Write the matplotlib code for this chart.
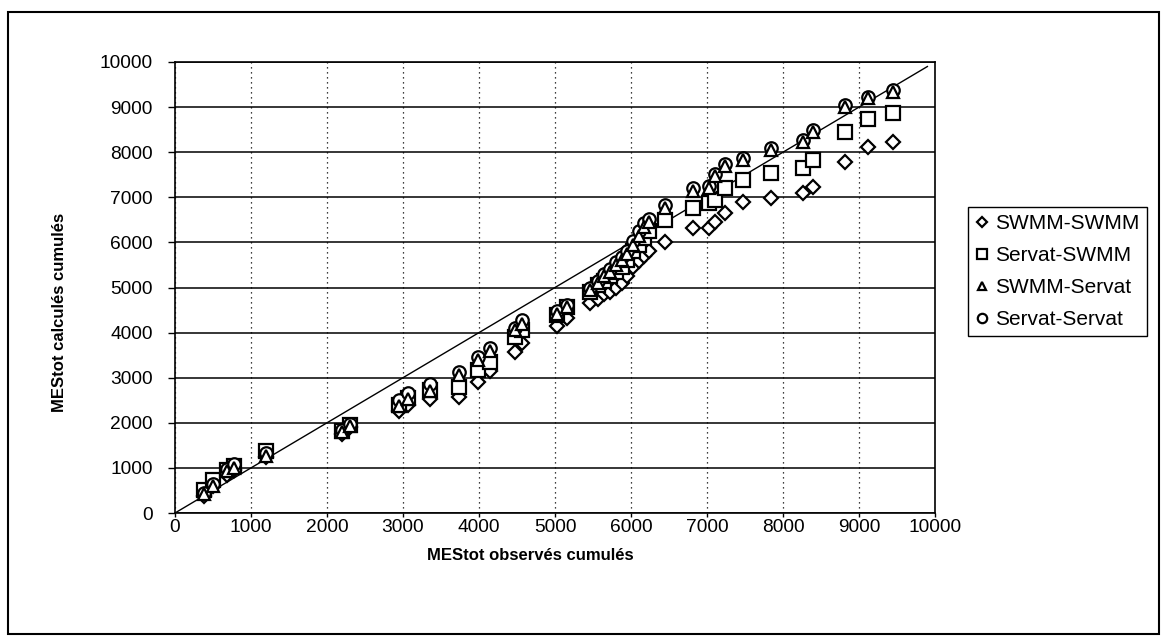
import matplotlib
matplotlib.use("Agg")
import matplotlib.pyplot as plt
from matplotlib.patches import Rectangle

plt.rcParams['font.family'] = ['Liberation Sans', 'DejaVu Sans']


# ---------- data ----------

# observed cumulated MEStot, shared by the four simulations
observes = [380, 500, 690, 780, 1200, 2200, 2300, 2950, 3060, 3360,
            3740, 3990, 4150, 4480, 4560, 5030, 5160, 5460, 5560, 5640,
            5720, 5800, 5880, 5950, 6020, 6100, 6170, 6240, 6450, 6820,
            7020, 7110, 7240, 7480, 7840, 8260, 8390, 8820, 9120, 9450]

swmm_swmm = [380, 600, 850, 950, 1250, 1750, 1900, 2260, 2400, 2520,
             2570, 2910, 3150, 3580, 3780, 4150, 4330, 4660, 4750, 4850,
             4900, 4980, 5100, 5250, 5450, 5580, 5700, 5820, 6010, 6320,
             6330, 6450, 6650, 6900, 6990, 7100, 7230, 7790, 8110, 8230]

servat_swmm = [520, 730, 950, 1050, 1380, 1820, 1960, 2400, 2560, 2720,
               2800, 3170, 3350, 3900, 4050, 4380, 4560, 4900, 5050, 5150,
               5250, 5350, 5450, 5600, 5800, 5950, 6100, 6250, 6500, 6760,
               6880, 6950, 7200, 7380, 7540, 7650, 7830, 8450, 8740, 8870]

swmm_servat = [420, 600, 930, 1000, 1260, 1790, 1920, 2380, 2530, 2700,
               3060, 3390, 3600, 4050, 4180, 4420, 4560, 4950, 5100, 5250,
               5350, 5500, 5600, 5750, 5950, 6150, 6350, 6450, 6770, 7150,
               7200, 7470, 7700, 7830, 8050, 8230, 8450, 9000, 9200, 9340]

servat_servat = [450, 650, 980, 1080, 1320, 1850, 1970, 2500, 2660, 2870,
                 3120, 3450, 3650, 4100, 4270, 4470, 4620, 5000, 5150, 5300,
                 5420, 5560, 5680, 5820, 6020, 6250, 6420, 6520, 6830, 7200,
                 7240, 7520, 7740, 7870, 8090, 8270, 8490, 9040, 9230, 9380]

bissectrice = [0, 9900]
ticks = list(range(0, 10001, 1000))


# ---------- figure ----------

W, H = 1167, 644
fig = plt.figure(figsize=(W / 100, H / 100), dpi=100)

# outer frame of the scanned chart
fig.add_artist(Rectangle((8 / W, 10 / H), (1159 - 8) / W, (634 - 12) / H,
                         transform=fig.transFigure, fill=False,
                         edgecolor='black', lw=1.5))

ax = fig.add_axes([175 / W, (H - 513) / H, 760 / W, 451 / H])
ax.set_xlim(0, 10000)
ax.set_ylim(0, 10000)
ax.set_xticks(ticks)
ax.set_yticks(ticks)
ax.set_axisbelow(True)
ax.yaxis.grid(True, color='black', lw=1.1)
ax.xaxis.grid(True, color='black', lw=0.9, linestyle=(0, (1, 3)))
for side in ax.spines.values():
    side.set_linewidth(1.2)
ax.tick_params(axis='y', length=5, width=1, pad=11, labelsize=13.8)
ax.tick_params(axis='x', length=3, width=1, pad=1, labelsize=13.8)

# 1:1 line
ax.plot(bissectrice, bissectrice, color='black', lw=1, zorder=2)

series = [
    (swmm_swmm, 'D', 7.0, 'SWMM-SWMM'),
    (servat_swmm, 's', 9.4, 'Servat-SWMM'),
    (servat_servat, 'o', 9.0, 'Servat-Servat'),
    (swmm_servat, '^', 8.4, 'SWMM-Servat'),
]
handles = {}
for i, (values, marker, size, label) in enumerate(series):
    h, = ax.plot(observes, values, linestyle='none', marker=marker,
                 ms=size, mfc='white', mec='black', mew=1.6,
                 label=label, zorder=3 + i)
    handles[label] = h

ax.set_xlabel('MEStot observés cumulés', fontsize=12, fontweight='bold')
ax.set_ylabel('MEStot calculés cumulés', fontsize=12, fontweight='bold')
ax.xaxis.set_label_coords((530 - 175) / 760, -(548 - 513) / 451)
ax.yaxis.set_label_coords(-(175 - 67) / 760, (513 - 312) / 451)

order = ['SWMM-SWMM', 'Servat-SWMM', 'SWMM-Servat', 'Servat-Servat']
leg = fig.legend([handles[k] for k in order], order,
                 loc='upper left', bbox_to_anchor=(968 / W, 1 - 207 / H),
                 borderaxespad=0, fontsize=15, markerscale=0.75,
                 handlelength=0.6, handletextpad=0.35, labelspacing=0.62,
                 borderpad=0.35, fancybox=False, framealpha=1,
                 edgecolor='black')
leg.get_frame().set_linewidth(1)

fig.savefig('out.png', dpi=100)
